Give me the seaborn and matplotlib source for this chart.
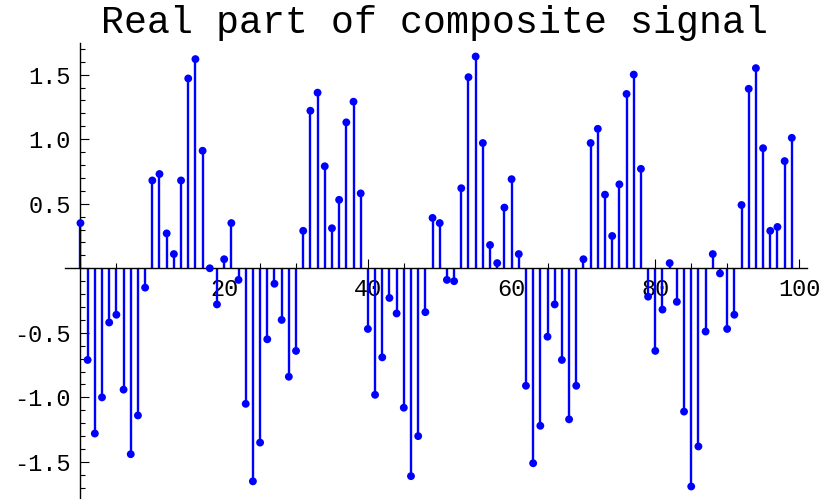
import seaborn as sns
import matplotlib.pyplot as plt
from matplotlib.ticker import FixedLocator, MultipleLocator, FuncFormatter
import pandas as pd

# значения (индексы 0..99)
sample_index = list(range(100))
real_part = [
    0.35, -0.71, -1.28, -1.00, -0.42, -0.36, -0.94, -1.44, -1.14, -0.15,
    0.68, 0.73, 0.27, 0.11, 0.68, 1.47, 1.62, 0.91, 0.00, -0.28,
    0.07, 0.35, -0.09, -1.05, -1.65, -1.35, -0.55, -0.12, -0.40, -0.84,
    -0.64, 0.29, 1.22, 1.36, 0.79, 0.31, 0.53, 1.13, 1.29, 0.58,
    -0.47, -0.98, -0.69, -0.23, -0.35, -1.08, -1.61, -1.30, -0.34, 0.39,
    0.35, -0.09, -0.10, 0.62, 1.48, 1.64, 0.97, 0.18, 0.04, 0.47,
    0.69, 0.11, -0.91, -1.51, -1.22, -0.53, -0.28, -0.71, -1.17, -0.91,
    0.07, 0.97, 1.08, 0.57, 0.25, 0.65, 1.35, 1.50, 0.77, -0.22,
    -0.64, -0.32, 0.04, -0.26, -1.11, -1.69, -1.38, -0.49, 0.11, -0.04,
    -0.47, -0.36, 0.49, 1.39, 1.55, 0.93, 0.29, 0.32, 0.83, 1.01,
]
x_major_ticks = [20, 40, 60, 80, 100]
title_text = "Real part of composite signal"

df = pd.DataFrame({"n": sample_index, "value": real_part})

sns.set_style("ticks")
plt.rcParams["font.family"] = ["Liberation Mono", "DejaVu Sans Mono"]
plt.rcParams["axes.unicode_minus"] = False
plt.rcParams["text.color"] = "black"

fig = plt.figure(figsize=(8.22, 4.99), dpi=100)
ax = fig.add_axes([65 / 822, 0, (806.7 - 65) / 822, (499 - 42.7) / 499])

# стебли
ax.vlines(df["n"], 0, df["value"], color="#0000ff", linewidth=1.7, zorder=2)
# точки
sns.scatterplot(data=df, x="n", y="value", ax=ax, color="#0000ff", s=32,
                edgecolor="none", linewidth=0, zorder=3, legend=False)

ax.set_xlim(-2.15, 101.07)
ax.set_ylim(-1.787, 1.747)

# оси в стиле Mathematica: пересекаются в нуле
ax.spines["left"].set_position(("data", 0))
ax.spines["bottom"].set_position(("data", 0))
ax.spines["top"].set_visible(False)
ax.spines["right"].set_visible(False)
for sp in ("left", "bottom"):
    ax.spines[sp].set_linewidth(1.0)
    ax.spines[sp].set_color("black")
    ax.spines[sp].set_zorder(2.5)

ax.xaxis.set_major_locator(FixedLocator(x_major_ticks))
ax.xaxis.set_minor_locator(MultipleLocator(5))
ax.yaxis.set_major_locator(MultipleLocator(0.5))
ax.yaxis.set_minor_locator(MultipleLocator(0.1))
ax.yaxis.set_major_formatter(FuncFormatter(lambda v, p: "" if abs(v) < 1e-9 else f"{v:.1f}"))

ax.tick_params(which="major", direction="in", length=6.5, width=0.8, labelsize=17, pad=7, colors="black")
ax.tick_params(which="minor", direction="in", length=3.6, width=0.8, colors="black")
ax.tick_params(axis="x", which="major", pad=7)

ax.set_xlabel("")
ax.set_ylabel("")
ax.patch.set_alpha(0)

fig.text(0.528, 1 - 33 / 499, title_text, ha="center", va="baseline",
         fontsize=27.5, color="black")

fig.savefig("out.png", dpi=100)
plt.close(fig)
